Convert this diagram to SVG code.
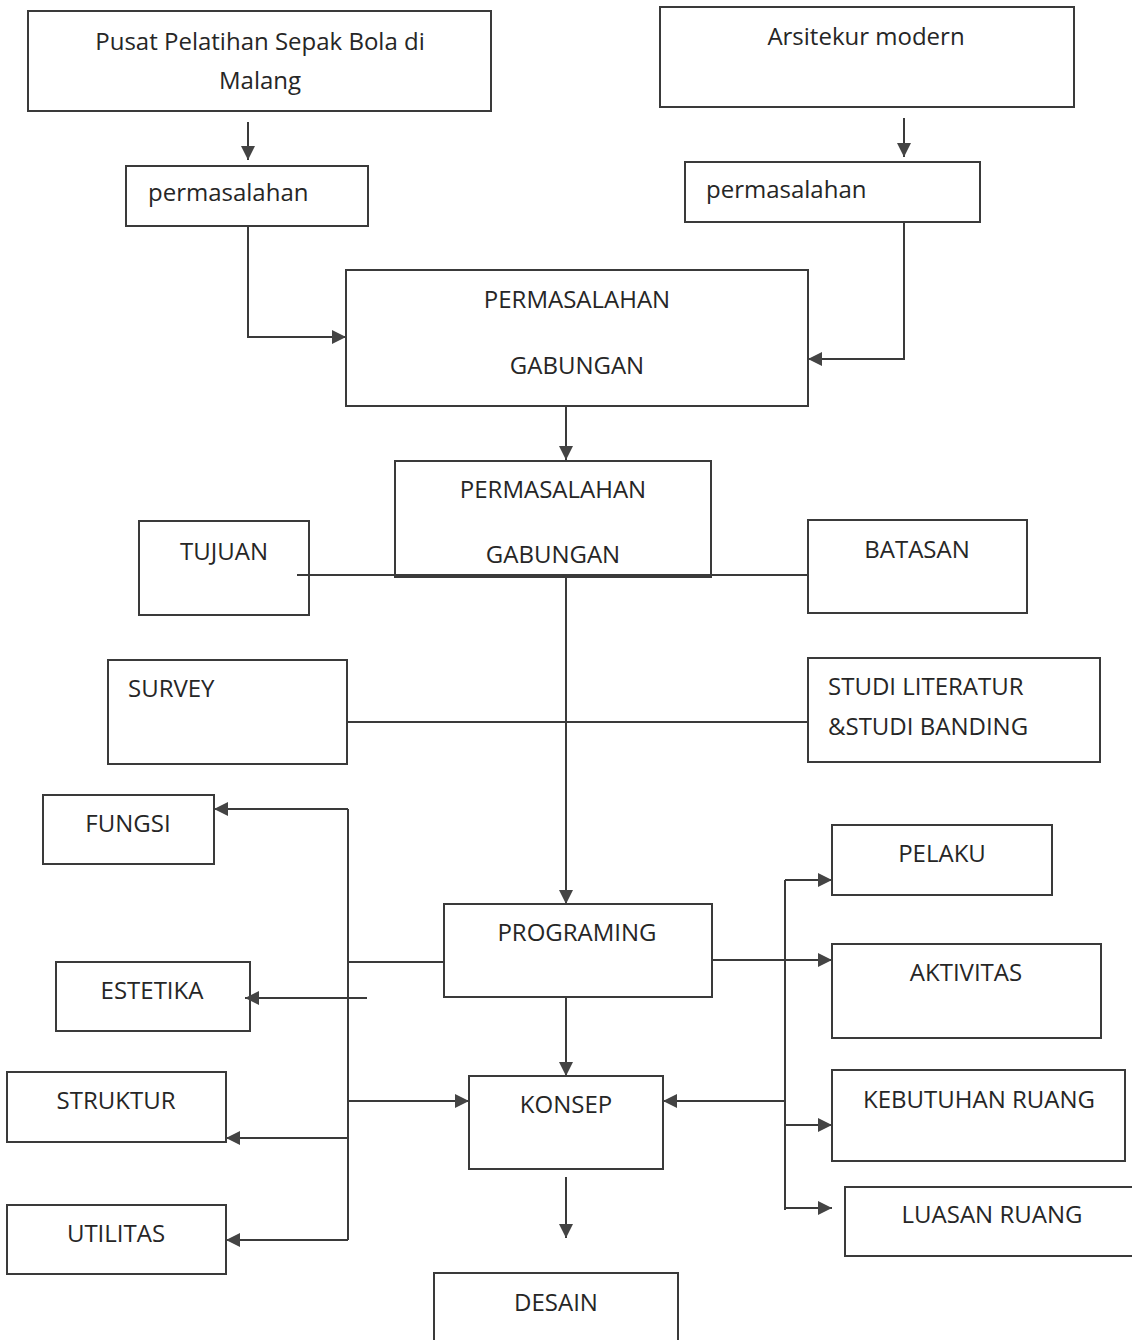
<svg xmlns="http://www.w3.org/2000/svg" width="1132" height="1340" viewBox="0 0 1132 1340">
<defs>
<style>
.box{fill:#fff;stroke:#3a3a3a;stroke-width:2}
.t{font-family:"Open Sans","Noto Sans",sans-serif;font-size:24px;fill:#262626}
.c{text-anchor:middle}
.ln{fill:none;stroke:#3a3a3a;stroke-width:2}
.ar{fill:none;stroke:#3a3a3a;stroke-width:2;marker-end:url(#ah)}
</style>
<marker id="ah" viewBox="0 0 14 14" refX="14" refY="7" markerWidth="14" markerHeight="14" markerUnits="userSpaceOnUse" orient="auto">
<path d="M0,0 L14,7 L0,14 Z" fill="#444"/>
</marker>
</defs>
<rect width="1132" height="1340" fill="#fff"/>
<g id="n-pusat"><rect class="box" x="28" y="11" width="463" height="100"/><text class="t c" x="260" y="50">Pusat Pelatihan Sepak Bola di</text><text class="t c" x="260" y="89">Malang</text></g>
<g id="n-arsitektur"><rect class="box" x="660" y="7" width="414" height="100"/><text class="t c" x="866" y="45">Arsitekur modern</text></g>
<g id="n-perm-l"><rect class="box" x="126" y="166" width="242" height="60"/><text class="t" x="148" y="201">permasalahan</text></g>
<g id="n-perm-r"><rect class="box" x="685" y="162" width="295" height="60"/><text class="t" x="706" y="198">permasalahan</text></g>
<g id="n-gab1"><rect class="box" x="346" y="270" width="462" height="136"/><text class="t c" x="577" y="308">PERMASALAHAN</text><text class="t c" x="577" y="374">GABUNGAN</text></g>
<g id="n-gab2"><rect class="box" x="395" y="461" width="316" height="116"/><text class="t c" x="553" y="498">PERMASALAHAN</text><text class="t c" x="553" y="563">GABUNGAN</text></g>
<g id="n-tujuan"><rect class="box" x="139" y="521" width="170" height="94"/><text class="t c" x="224" y="560">TUJUAN</text></g>
<g id="n-batasan"><rect class="box" x="808" y="520" width="219" height="93"/><text class="t c" x="917" y="558">BATASAN</text></g>
<g id="n-survey"><rect class="box" x="108" y="660" width="239" height="104"/><text class="t" x="128" y="697">SURVEY</text></g>
<g id="n-studi"><rect class="box" x="808" y="658" width="292" height="104"/><text class="t" x="828" y="695">STUDI LITERATUR</text><text class="t" x="828" y="735">&amp;STUDI BANDING</text></g>
<g id="n-fungsi"><rect class="box" x="43" y="795" width="171" height="69"/><text class="t c" x="128" y="832">FUNGSI</text></g>
<g id="n-estetika"><rect class="box" x="56" y="962" width="194" height="69"/><text class="t c" x="152" y="999">ESTETIKA</text></g>
<g id="n-struktur"><rect class="box" x="7" y="1072" width="219" height="70"/><text class="t c" x="116" y="1109">STRUKTUR</text></g>
<g id="n-utilitas"><rect class="box" x="7" y="1205" width="219" height="69"/><text class="t c" x="116" y="1242">UTILITAS</text></g>
<g id="n-programing"><rect class="box" x="444" y="904" width="268" height="93"/><text class="t c" x="577" y="941">PROGRAMING</text></g>
<g id="n-konsep"><rect class="box" x="469" y="1076" width="194" height="93"/><text class="t c" x="566" y="1113">KONSEP</text></g>
<g id="n-desain"><rect class="box" x="434" y="1273" width="244" height="80"/><text class="t c" x="556" y="1311">DESAIN</text></g>
<g id="n-pelaku"><rect class="box" x="832" y="825" width="220" height="70"/><text class="t c" x="942" y="862">PELAKU</text></g>
<g id="n-aktivitas"><rect class="box" x="832" y="944" width="269" height="94"/><text class="t c" x="966" y="981">AKTIVITAS</text></g>
<g id="n-kebutuhan"><rect class="box" x="832" y="1070" width="293" height="91"/><text class="t c" x="979" y="1108">KEBUTUHAN RUANG</text></g>
<g id="n-luasan"><rect class="box" x="845" y="1187" width="300" height="69"/><text class="t c" x="992" y="1223">LUASAN RUANG</text></g>
<g id="connectors">
<path class="ar" d="M248,122 V160"/>
<path class="ar" d="M904,118 V157"/>
<path class="ar" d="M248,226 V337 H346"/>
<path class="ar" d="M904,222 V359 H808"/>
<path class="ar" d="M566,406 V460"/>
<path class="ln" d="M297,575 H808"/>
<path class="ar" d="M566,577 V904"/>
<path class="ln" d="M347,722 H808"/>
<path class="ln" d="M348,809 V1240"/>
<path class="ar" d="M348,809 H214"/>
<path class="ln" d="M444,962 H348"/>
<path class="ar" d="M367,998 H245"/>
<path class="ar" d="M348,1101 H469"/>
<path class="ar" d="M348,1138 H226"/>
<path class="ar" d="M348,1240 H226"/>
<path class="ar" d="M566,997 V1076"/>
<path class="ar" d="M566,1177 V1238"/>
<path class="ln" d="M785,880 V1210"/>
<path class="ar" d="M785,880 H832"/>
<path class="ar" d="M712,960 H832"/>
<path class="ar" d="M785,1101 H663"/>
<path class="ar" d="M785,1125 H832"/>
<path class="ar" d="M785,1208 H832"/>
</g>
</svg>
